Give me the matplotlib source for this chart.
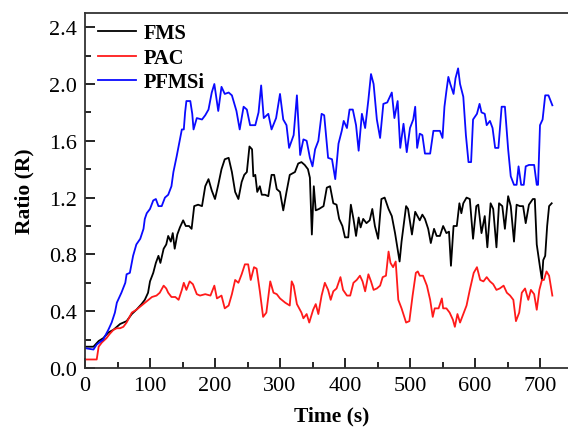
import numpy as np
import matplotlib
matplotlib.use("Agg")
import matplotlib.pyplot as plt
from matplotlib.ticker import MultipleLocator

# FMS (black)
t_fms = [0, 13, 21, 28, 36, 44, 54, 64, 72, 79, 87, 92, 97, 100, 105, 109, 113, 116, 121, 125,
         128, 132, 135, 138, 142, 146, 151, 155, 160, 164, 168, 174, 180, 185, 190, 195, 200, 205,
         210, 215, 221, 226, 231, 236, 241, 245, 249, 253, 257, 259, 262, 265, 269, 272, 277, 282,
         287, 291, 295, 300, 305, 310, 315, 323, 328, 333, 338, 343, 346, 349, 352, 355, 360, 367,
         372, 377, 382, 387, 391, 396, 400, 405, 409, 413, 417, 421, 424, 428, 433, 438, 442, 446,
         451, 456, 461, 467, 472, 477, 484, 487, 494, 497, 503, 508, 515, 519, 523, 528, 532, 537,
         541, 546, 551, 556, 560, 563, 567, 572, 576, 579, 582, 587, 592, 597, 602, 605, 610, 615,
         619, 624, 628, 633, 637, 642, 646, 651, 655, 660, 664, 669, 674, 678, 683, 689, 692, 695,
         700, 703, 705, 708, 711, 714, 718]
v_fms = [0.15, 0.15, 0.19, 0.21, 0.25, 0.27, 0.31, 0.33, 0.38, 0.41, 0.45, 0.48, 0.53, 0.61, 0.67,
         0.74, 0.79, 0.74, 0.84, 0.87, 0.93, 0.89, 0.95, 0.84, 0.94, 0.99, 1.04, 1.00, 1.00, 0.98,
         1.14, 1.15, 1.14, 1.28, 1.33, 1.25, 1.19, 1.29, 1.40, 1.47, 1.48, 1.38, 1.24, 1.19, 1.31,
         1.36, 1.38, 1.56, 1.54, 1.35, 1.36, 1.24, 1.28, 1.22, 1.22, 1.21, 1.36, 1.36, 1.26, 1.24,
         1.11, 1.24, 1.36, 1.38, 1.44, 1.45, 1.43, 1.40, 1.34, 0.94, 1.28, 1.11, 1.12, 1.14, 1.27,
         1.28, 1.16, 1.15, 1.05, 1.00, 0.92, 0.92, 1.15, 1.05, 0.93, 1.06, 0.99, 1.05, 1.02, 1.04,
         1.12, 1.00, 0.91, 1.19, 1.20, 1.12, 1.07, 0.95, 0.75, 0.89, 1.14, 1.12, 0.94, 1.10, 1.04,
         1.08, 1.05, 0.98, 0.88, 0.98, 0.93, 0.93, 1.00, 0.95, 0.96, 0.72, 1.00, 1.00, 1.16, 1.09,
         1.16, 1.20, 1.19, 0.91, 1.14, 1.15, 0.95, 1.07, 0.85, 1.16, 1.12, 0.85, 1.16, 1.14, 0.98,
         1.21, 1.14, 0.89, 1.15, 1.14, 1.14, 1.02, 1.15, 1.19, 1.19, 0.87, 0.71, 0.62, 0.76, 0.79,
         1.00, 1.14, 1.16]

# PAC (red)
t_pac = [0, 18, 21, 26, 33, 38, 44, 49, 54, 59, 64, 72, 79, 87, 95, 103, 110, 115, 121, 125, 128,
         133, 139, 144, 149, 152, 156, 161, 166, 172, 177, 185, 193, 199, 203, 210, 215, 221, 226,
         231, 236, 241, 246, 251, 255, 260, 264, 269, 274, 279, 285, 290, 295, 300, 308, 315, 318,
         321, 326, 333, 336, 341, 345, 351, 355, 359, 364, 369, 374, 378, 382, 387, 393, 397, 403,
         408, 413, 418, 423, 427, 431, 436, 440, 444, 449, 454, 458, 463, 467, 470, 474, 478, 482,
         487, 494, 499, 504, 509, 512, 515, 520, 526, 531, 535, 538, 544, 549, 551, 556, 561, 566,
         569, 573, 577, 582, 587, 592, 598, 603, 608, 613, 618, 623, 628, 633, 638, 644, 649, 654,
         659, 663, 668, 672, 677, 682, 686, 691, 695, 699, 703, 706, 710, 714, 719]
v_pac = [0.06, 0.06, 0.15, 0.18, 0.21, 0.24, 0.27, 0.28, 0.28, 0.29, 0.32, 0.39, 0.41, 0.44, 0.47,
         0.50, 0.51, 0.53, 0.58, 0.56, 0.53, 0.50, 0.50, 0.48, 0.55, 0.60, 0.55, 0.61, 0.59, 0.52,
         0.51, 0.52, 0.51, 0.58, 0.49, 0.51, 0.42, 0.44, 0.52, 0.62, 0.60, 0.66, 0.73, 0.73, 0.62,
         0.71, 0.70, 0.54, 0.36, 0.39, 0.61, 0.53, 0.52, 0.49, 0.46, 0.44, 0.61, 0.58, 0.45, 0.39,
         0.35, 0.38, 0.32, 0.41, 0.45, 0.38, 0.51, 0.60, 0.55, 0.48, 0.54, 0.56, 0.64, 0.55, 0.51,
         0.51, 0.60, 0.62, 0.65, 0.61, 0.54, 0.66, 0.61, 0.55, 0.56, 0.58, 0.64, 0.65, 0.82, 0.74,
         0.71, 0.75, 0.48, 0.42, 0.32, 0.33, 0.51, 0.67, 0.68, 0.65, 0.65, 0.58, 0.48, 0.36, 0.42,
         0.42, 0.49, 0.42, 0.42, 0.39, 0.34, 0.29, 0.38, 0.32, 0.38, 0.44, 0.55, 0.67, 0.71, 0.62,
         0.61, 0.64, 0.61, 0.59, 0.55, 0.56, 0.58, 0.53, 0.51, 0.48, 0.33, 0.39, 0.53, 0.56, 0.48,
         0.55, 0.52, 0.41, 0.55, 0.62, 0.62, 0.68, 0.65, 0.51]

# PFMSi (blue)
t_pfmsi = [0, 13, 18, 28, 36, 41, 46, 49, 56, 62, 64, 69, 74, 79, 85, 90, 92, 95, 100, 105, 109,
           113, 118, 123, 128, 133, 136, 141, 146, 149, 152, 154, 156, 162, 165, 167, 172, 180, 185,
           190, 195, 199, 205, 210, 215, 221, 226, 233, 238, 244, 249, 254, 262, 267, 271, 275, 282,
           287, 294, 300, 305, 310, 314, 321, 326, 331, 336, 341, 346, 350, 354, 359, 364, 368, 374,
           380, 385, 390, 395, 398, 403, 407, 412, 417, 421, 426, 431, 436, 440, 444, 449, 454, 459,
           465, 472, 476, 481, 485, 490, 495, 500, 505, 508, 511, 515, 519, 523, 531, 536, 546, 550,
           553, 556, 559, 562, 567, 570, 574, 577, 582, 586, 590, 594, 597, 603, 607, 610, 615, 618,
           623, 627, 631, 636, 641, 646, 651, 655, 660, 664, 667, 671, 675, 678, 683, 691, 695, 697,
           700, 704, 708, 713, 719]
v_pfmsi = [0.14, 0.13, 0.165, 0.20, 0.27, 0.32, 0.39, 0.46, 0.53, 0.60, 0.66, 0.67, 0.79, 0.87,
           0.91, 0.98, 1.05, 1.09, 1.12, 1.18, 1.19, 1.14, 1.14, 1.20, 1.22, 1.28, 1.38, 1.49, 1.61,
           1.68, 1.68, 1.80, 1.88, 1.88, 1.79, 1.68, 1.76, 1.75, 1.78, 1.82, 1.94, 2.00, 1.81, 1.98,
           1.93, 1.94, 1.92, 1.81, 1.68, 1.84, 1.82, 1.71, 1.71, 1.80, 1.99, 1.76, 1.79, 1.68, 1.76,
           1.93, 1.75, 1.71, 1.55, 1.64, 1.92, 1.50, 1.61, 1.60, 1.48, 1.42, 1.54, 1.60, 1.79, 1.78,
           1.48, 1.47, 1.33, 1.58, 1.67, 1.74, 1.69, 1.82, 1.82, 1.71, 1.53, 1.79, 1.69, 1.89, 2.07,
           2.00, 1.75, 1.62, 1.86, 1.87, 1.94, 1.76, 1.88, 1.55, 1.72, 1.52, 1.69, 1.75, 1.84, 1.55,
           1.65, 1.64, 1.51, 1.51, 1.67, 1.67, 1.62, 1.84, 1.95, 2.05, 2.00, 1.93, 2.04, 2.11, 2.00,
           1.91, 1.64, 1.45, 1.45, 1.75, 1.79, 1.86, 1.80, 1.79, 1.71, 1.74, 1.69, 1.55, 1.55, 1.84,
           1.84, 1.54, 1.35, 1.29, 1.29, 1.42, 1.29, 1.29, 1.42, 1.43, 1.43, 1.29, 1.29, 1.71, 1.75,
           1.92, 1.92, 1.85]

plt.rcParams['font.family'] = ['Liberation Serif', 'DejaVu Serif']

fig = plt.figure(figsize=(5.68, 4.31), dpi=100)
ax = fig.add_axes([85 / 568, 62 / 431, 494 / 568, 355 / 431])

ax.plot(t_fms, v_fms, color='black', lw=1.3, label='FMS')
ax.plot(t_pac, v_pac, color='#ff1a1a', lw=1.3, label='PAC')
ax.plot(t_pfmsi, v_pfmsi, color='#0a0aff', lw=1.3, label='PFMSi')

ax.set_xlim(0, 760)
ax.set_ylim(0, 2.5)
ax.xaxis.set_major_locator(MultipleLocator(100))
ax.xaxis.set_minor_locator(MultipleLocator(50))
ax.yaxis.set_major_locator(MultipleLocator(0.4))
ax.yaxis.set_minor_locator(MultipleLocator(0.2))
ax.yaxis.set_major_formatter(matplotlib.ticker.FormatStrFormatter('%.1f'))
ax.tick_params(which='major', direction='in', length=7, width=1.2, labelsize=16, pad=6)
ax.tick_params(which='minor', direction='in', length=4, width=1.2)
ax.tick_params(top=False, right=False, which='both')
for s in ax.spines.values():
    s.set_linewidth(1.3)
    s.set_color('#333333')

ax.set_xlabel('Time (s)', fontsize=15.5, fontweight='bold', labelpad=7)
ax.set_ylabel('Ratio (R)', fontsize=15.5, fontweight='bold', labelpad=10)

leg = ax.legend(loc='upper left', frameon=False, prop={'weight': 'bold', 'size': 14.7},
                handlelength=1.9, handletextpad=0.35, labelspacing=0.22,
                borderaxespad=0.1, bbox_to_anchor=(0.005, 1.0))

fig.savefig('out.png', dpi=100)
